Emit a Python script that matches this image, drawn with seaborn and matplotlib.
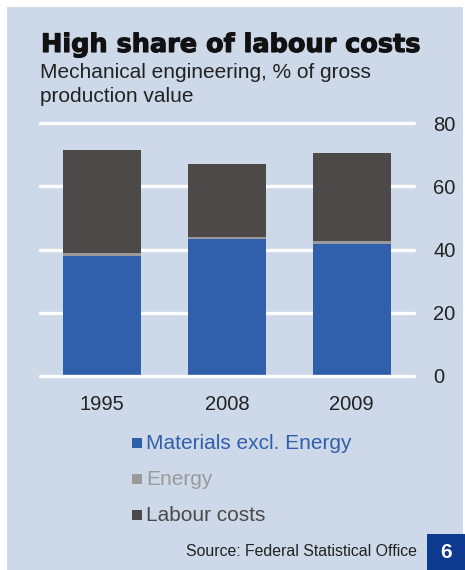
import matplotlib
matplotlib.use("Agg")
import matplotlib.pyplot as plt
import matplotlib.patheffects as pe
from matplotlib.patches import Rectangle
import numpy as np
import pandas as pd
import seaborn as sns

years = ["1995", "2008", "2009"]
materials = [37.8, 43.2, 41.6]
energy = [1.0, 0.8, 1.1]
labour = [32.7, 23.1, 28.0]
series_names = ["Materials excl. Energy", "Energy", "Labour costs"]
y_ticks = [0, 20, 40, 60, 80]

BG = "#cdd8e9"
C_MAT = "#3060ab"
C_EN = "#9a9a9a"
C_LAB = "#4d4948"

sns.set_theme(style="white")
plt.rcParams["font.family"] = ["Liberation Sans", "DejaVu Sans"]

fig = plt.figure(figsize=(4.65, 5.7), dpi=100)
fig.patch.set_facecolor("white")
# light blue panel behind everything
fig.patches.append(Rectangle((7 / 465, 0), (463 - 7) / 465, (570 - 7) / 570,
                             transform=fig.transFigure, facecolor=BG,
                             edgecolor="none", zorder=-10))

ax = fig.add_axes([40 / 465, (570 - 375.7) / 570, 374 / 465, 252.4 / 570])
ax.set_facecolor("none")
ax.set_zorder(5)

df = pd.DataFrame({"year": years, "materials": materials,
                   "energy": energy, "labour": labour})
df["top_energy"] = df["materials"] + df["energy"]
df["top_labour"] = df["top_energy"] + df["labour"]

# stacked bars: draw cumulative totals back to front
for col, color in [("top_labour", C_LAB), ("top_energy", C_EN), ("materials", C_MAT)]:
    sns.barplot(data=df, x="year", y=col, color=color, width=0.624,
                saturation=1, linewidth=0, edgecolor="none", ax=ax, zorder=3)

ax.set_xlim(-0.5, 2.5)
ax.set_ylim(0, 80)
ax.set_yticks(y_ticks)
ax.yaxis.tick_right()
ax.tick_params(axis="y", length=0, pad=14, labelsize=14.5, labelcolor="#222222")
ax.tick_params(axis="x", length=0, pad=14, labelsize=14.5, labelcolor="#222222")
ax.set_xlabel("")
ax.set_ylabel("")
for s in ax.spines.values():
    s.set_visible(False)
for t in y_ticks:
    ax.axhline(t, color="white", lw=2.4, zorder=1 if t else 4, clip_on=False)

# titles
fig.text(41 / 465, 1 - 52 / 570, "High share of labour costs", fontsize=18.4,
         fontweight="bold", family="DejaVu Sans", color="#111111",
         ha="left", va="baseline",
         path_effects=[pe.withStroke(linewidth=0.8, foreground="#111111")])
fig.text(40 / 465, 1 - 78 / 570, "Mechanical engineering, % of gross",
         fontsize=15, color="#222222", ha="left", va="baseline")
fig.text(40 / 465, 1 - 102 / 570, "production value",
         fontsize=15, color="#222222", ha="left", va="baseline")

# legend
legend_items = [(series_names[0], C_MAT, 449), (series_names[1], C_EN, 485),
                (series_names[2], C_LAB, 521)]
for name, color, yb in legend_items:
    fig.patches.append(Rectangle((132 / 465, 1 - (yb - 1) / 570), 10 / 465, 10 / 570,
                                 transform=fig.transFigure, facecolor=color,
                                 edgecolor="none", zorder=2))
    fig.text(146 / 465, 1 - yb / 570, name, fontsize=15, color=color,
             ha="left", va="baseline")

fig.text(417 / 465, 1 - 556 / 570, "Source: Federal Statistical Office",
         fontsize=11.4, color="#222222", ha="right", va="baseline")

fig.patches.append(Rectangle((427 / 465, 0), 38 / 465, 36 / 570,
                             transform=fig.transFigure, facecolor="#0d3a8e",
                             edgecolor="none", zorder=2))
fig.text(446 / 465, 18 / 570, "6", fontsize=15, fontweight="bold",
         color="white", ha="center", va="center")

fig.savefig("out.png", dpi=100, facecolor=fig.get_facecolor())
